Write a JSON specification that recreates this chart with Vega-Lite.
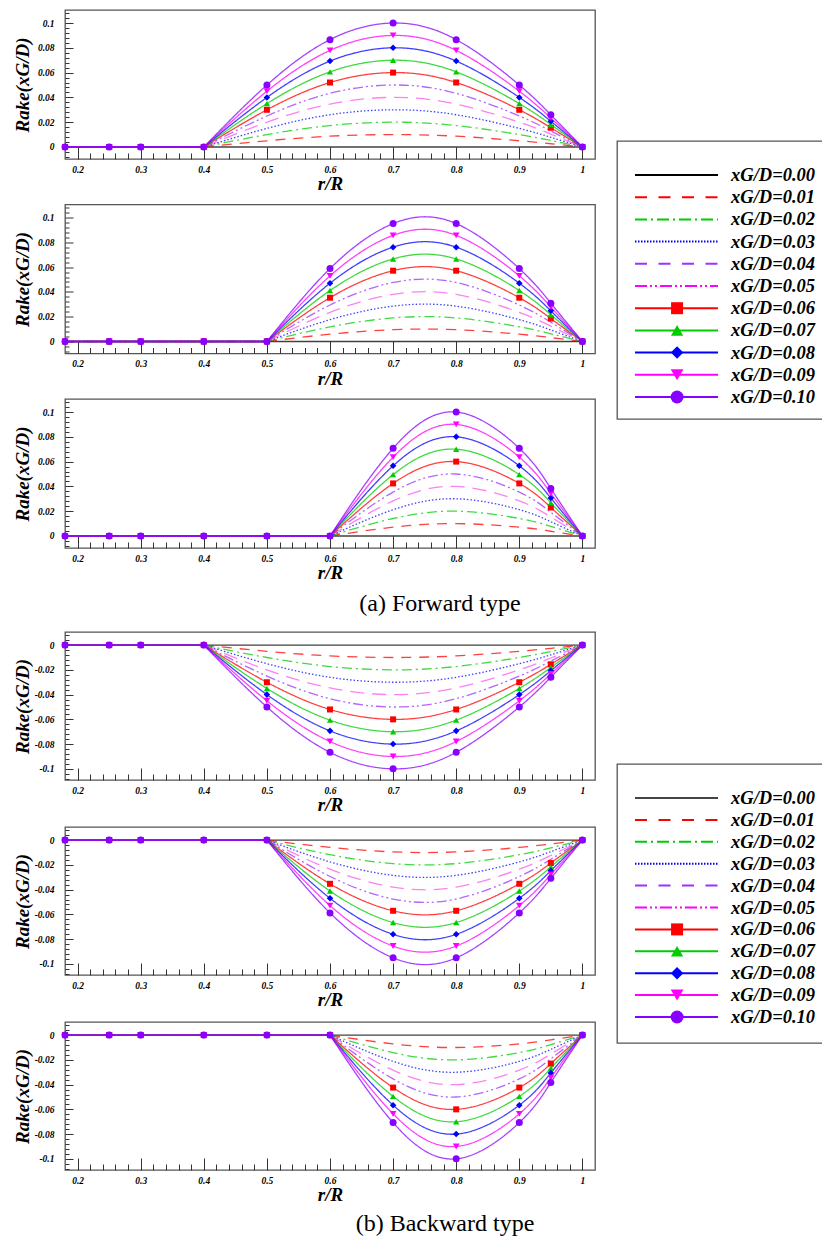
{
"$schema":"https://vega.github.io/schema/vega-lite/v6.json",
"padding":{"left":12,"top":7,"right":0,"bottom":0},
"background":"white",
"datasets":{
"legend":[
{"series":"k00","label":"xG/D=0.00"},{"series":"k01","label":"xG/D=0.01"},{"series":"k02","label":"xG/D=0.02"},{"series":"k03","label":"xG/D=0.03"},{"series":"k04","label":"xG/D=0.04"},{"series":"k05","label":"xG/D=0.05"},{"series":"k06","label":"xG/D=0.06"},{"series":"k07","label":"xG/D=0.07"},{"series":"k08","label":"xG/D=0.08"},{"series":"k09","label":"xG/D=0.09"},{"series":"k10","label":"xG/D=0.10"}
],
"rake":[
{"panel":"F4","r":0.18,"k00":0,"k01":0,"k02":0,"k03":0,"k04":0,"k05":0,"k06":0,"k07":0,"k08":0,"k09":0,"k10":0},
{"panel":"F4","r":0.25,"k00":0,"k01":0,"k02":0,"k03":0,"k04":0,"k05":0,"k06":0,"k07":0,"k08":0,"k09":0,"k10":0},
{"panel":"F4","r":0.3,"k00":0,"k01":0,"k02":0,"k03":0,"k04":0,"k05":0,"k06":0,"k07":0,"k08":0,"k09":0,"k10":0},
{"panel":"F4","r":0.4,"k00":0,"k01":0,"k02":0,"k03":0,"k04":0,"k05":0,"k06":0,"k07":0,"k08":0,"k09":0,"k10":0},
{"panel":"F4","r":0.5,"k00":0,"k01":0.005,"k02":0.01,"k03":0.015,"k04":0.02,"k05":0.025,"k06":0.03,"k07":0.035,"k08":0.04,"k09":0.045,"k10":0.05},
{"panel":"F4","r":0.6,"k00":0,"k01":0.0087,"k02":0.0173,"k03":0.026,"k04":0.0346,"k05":0.0433,"k06":0.052,"k07":0.0606,"k08":0.0693,"k09":0.0779,"k10":0.0866},
{"panel":"F4","r":0.7,"k00":0,"k01":0.01,"k02":0.02,"k03":0.03,"k04":0.04,"k05":0.05,"k06":0.06,"k07":0.07,"k08":0.08,"k09":0.09,"k10":0.1},
{"panel":"F4","r":0.8,"k00":0,"k01":0.0087,"k02":0.0173,"k03":0.026,"k04":0.0346,"k05":0.0433,"k06":0.052,"k07":0.0606,"k08":0.0693,"k09":0.0779,"k10":0.0866},
{"panel":"F4","r":0.9,"k00":0,"k01":0.005,"k02":0.01,"k03":0.015,"k04":0.02,"k05":0.025,"k06":0.03,"k07":0.035,"k08":0.04,"k09":0.045,"k10":0.05},
{"panel":"F4","r":0.95,"k00":0,"k01":0.0026,"k02":0.0052,"k03":0.0078,"k04":0.0104,"k05":0.0129,"k06":0.0155,"k07":0.0181,"k08":0.0207,"k09":0.0233,"k10":0.0259},
{"panel":"F4","r":1,"k00":0,"k01":0,"k02":0,"k03":0,"k04":0,"k05":0,"k06":0,"k07":0,"k08":0,"k09":0,"k10":0},
{"panel":"F5","r":0.18,"k00":0,"k01":0,"k02":0,"k03":0,"k04":0,"k05":0,"k06":0,"k07":0,"k08":0,"k09":0,"k10":0},
{"panel":"F5","r":0.25,"k00":0,"k01":0,"k02":0,"k03":0,"k04":0,"k05":0,"k06":0,"k07":0,"k08":0,"k09":0,"k10":0},
{"panel":"F5","r":0.3,"k00":0,"k01":0,"k02":0,"k03":0,"k04":0,"k05":0,"k06":0,"k07":0,"k08":0,"k09":0,"k10":0},
{"panel":"F5","r":0.4,"k00":0,"k01":0,"k02":0,"k03":0,"k04":0,"k05":0,"k06":0,"k07":0,"k08":0,"k09":0,"k10":0},
{"panel":"F5","r":0.5,"k00":0,"k01":0,"k02":0,"k03":0,"k04":0,"k05":0,"k06":0,"k07":0,"k08":0,"k09":0,"k10":0},
{"panel":"F5","r":0.6,"k00":0,"k01":0.0059,"k02":0.0118,"k03":0.0176,"k04":0.0235,"k05":0.0294,"k06":0.0353,"k07":0.0411,"k08":0.047,"k09":0.0529,"k10":0.0588},
{"panel":"F5","r":0.7,"k00":0,"k01":0.0095,"k02":0.019,"k03":0.0285,"k04":0.038,"k05":0.0476,"k06":0.0571,"k07":0.0666,"k08":0.0761,"k09":0.0856,"k10":0.0951},
{"panel":"F5","r":0.8,"k00":0,"k01":0.0095,"k02":0.019,"k03":0.0285,"k04":0.038,"k05":0.0476,"k06":0.0571,"k07":0.0666,"k08":0.0761,"k09":0.0856,"k10":0.0951},
{"panel":"F5","r":0.9,"k00":0,"k01":0.0059,"k02":0.0118,"k03":0.0176,"k04":0.0235,"k05":0.0294,"k06":0.0353,"k07":0.0411,"k08":0.047,"k09":0.0529,"k10":0.0588},
{"panel":"F5","r":0.95,"k00":0,"k01":0.0031,"k02":0.0062,"k03":0.0093,"k04":0.0124,"k05":0.0155,"k06":0.0185,"k07":0.0216,"k08":0.0247,"k09":0.0278,"k10":0.0309},
{"panel":"F5","r":1,"k00":0,"k01":0,"k02":0,"k03":0,"k04":0,"k05":0,"k06":0,"k07":0,"k08":0,"k09":0,"k10":0},
{"panel":"F6","r":0.18,"k00":0,"k01":0,"k02":0,"k03":0,"k04":0,"k05":0,"k06":0,"k07":0,"k08":0,"k09":0,"k10":0},
{"panel":"F6","r":0.25,"k00":0,"k01":0,"k02":0,"k03":0,"k04":0,"k05":0,"k06":0,"k07":0,"k08":0,"k09":0,"k10":0},
{"panel":"F6","r":0.3,"k00":0,"k01":0,"k02":0,"k03":0,"k04":0,"k05":0,"k06":0,"k07":0,"k08":0,"k09":0,"k10":0},
{"panel":"F6","r":0.4,"k00":0,"k01":0,"k02":0,"k03":0,"k04":0,"k05":0,"k06":0,"k07":0,"k08":0,"k09":0,"k10":0},
{"panel":"F6","r":0.5,"k00":0,"k01":0,"k02":0,"k03":0,"k04":0,"k05":0,"k06":0,"k07":0,"k08":0,"k09":0,"k10":0},
{"panel":"F6","r":0.6,"k00":0,"k01":0,"k02":0,"k03":0,"k04":0,"k05":0,"k06":0,"k07":0,"k08":0,"k09":0,"k10":0},
{"panel":"F6","r":0.7,"k00":0,"k01":0.0071,"k02":0.0141,"k03":0.0212,"k04":0.0283,"k05":0.0354,"k06":0.0424,"k07":0.0495,"k08":0.0566,"k09":0.0636,"k10":0.0707},
{"panel":"F6","r":0.8,"k00":0,"k01":0.01,"k02":0.02,"k03":0.03,"k04":0.04,"k05":0.05,"k06":0.06,"k07":0.07,"k08":0.08,"k09":0.09,"k10":0.1},
{"panel":"F6","r":0.9,"k00":0,"k01":0.0071,"k02":0.0141,"k03":0.0212,"k04":0.0283,"k05":0.0354,"k06":0.0424,"k07":0.0495,"k08":0.0566,"k09":0.0636,"k10":0.0707},
{"panel":"F6","r":0.95,"k00":0,"k01":0.0038,"k02":0.0077,"k03":0.0115,"k04":0.0153,"k05":0.0191,"k06":0.023,"k07":0.0268,"k08":0.0306,"k09":0.0344,"k10":0.0383},
{"panel":"F6","r":1,"k00":0,"k01":0,"k02":0,"k03":0,"k04":0,"k05":0,"k06":0,"k07":0,"k08":0,"k09":0,"k10":0},
{"panel":"B4","r":0.18,"k00":0,"k01":0,"k02":0,"k03":0,"k04":0,"k05":0,"k06":0,"k07":0,"k08":0,"k09":0,"k10":0},
{"panel":"B4","r":0.25,"k00":0,"k01":0,"k02":0,"k03":0,"k04":0,"k05":0,"k06":0,"k07":0,"k08":0,"k09":0,"k10":0},
{"panel":"B4","r":0.3,"k00":0,"k01":0,"k02":0,"k03":0,"k04":0,"k05":0,"k06":0,"k07":0,"k08":0,"k09":0,"k10":0},
{"panel":"B4","r":0.4,"k00":0,"k01":0,"k02":0,"k03":0,"k04":0,"k05":0,"k06":0,"k07":0,"k08":0,"k09":0,"k10":0},
{"panel":"B4","r":0.5,"k00":0,"k01":-0.005,"k02":-0.01,"k03":-0.015,"k04":-0.02,"k05":-0.025,"k06":-0.03,"k07":-0.035,"k08":-0.04,"k09":-0.045,"k10":-0.05},
{"panel":"B4","r":0.6,"k00":0,"k01":-0.0087,"k02":-0.0173,"k03":-0.026,"k04":-0.0346,"k05":-0.0433,"k06":-0.052,"k07":-0.0606,"k08":-0.0693,"k09":-0.0779,"k10":-0.0866},
{"panel":"B4","r":0.7,"k00":0,"k01":-0.01,"k02":-0.02,"k03":-0.03,"k04":-0.04,"k05":-0.05,"k06":-0.06,"k07":-0.07,"k08":-0.08,"k09":-0.09,"k10":-0.1},
{"panel":"B4","r":0.8,"k00":0,"k01":-0.0087,"k02":-0.0173,"k03":-0.026,"k04":-0.0346,"k05":-0.0433,"k06":-0.052,"k07":-0.0606,"k08":-0.0693,"k09":-0.0779,"k10":-0.0866},
{"panel":"B4","r":0.9,"k00":0,"k01":-0.005,"k02":-0.01,"k03":-0.015,"k04":-0.02,"k05":-0.025,"k06":-0.03,"k07":-0.035,"k08":-0.04,"k09":-0.045,"k10":-0.05},
{"panel":"B4","r":0.95,"k00":0,"k01":-0.0026,"k02":-0.0052,"k03":-0.0078,"k04":-0.0104,"k05":-0.0129,"k06":-0.0155,"k07":-0.0181,"k08":-0.0207,"k09":-0.0233,"k10":-0.0259},
{"panel":"B4","r":1,"k00":0,"k01":0,"k02":0,"k03":0,"k04":0,"k05":0,"k06":0,"k07":0,"k08":0,"k09":0,"k10":0},
{"panel":"B5","r":0.18,"k00":0,"k01":0,"k02":0,"k03":0,"k04":0,"k05":0,"k06":0,"k07":0,"k08":0,"k09":0,"k10":0},
{"panel":"B5","r":0.25,"k00":0,"k01":0,"k02":0,"k03":0,"k04":0,"k05":0,"k06":0,"k07":0,"k08":0,"k09":0,"k10":0},
{"panel":"B5","r":0.3,"k00":0,"k01":0,"k02":0,"k03":0,"k04":0,"k05":0,"k06":0,"k07":0,"k08":0,"k09":0,"k10":0},
{"panel":"B5","r":0.4,"k00":0,"k01":0,"k02":0,"k03":0,"k04":0,"k05":0,"k06":0,"k07":0,"k08":0,"k09":0,"k10":0},
{"panel":"B5","r":0.5,"k00":0,"k01":0,"k02":0,"k03":0,"k04":0,"k05":0,"k06":0,"k07":0,"k08":0,"k09":0,"k10":0},
{"panel":"B5","r":0.6,"k00":0,"k01":-0.0059,"k02":-0.0118,"k03":-0.0176,"k04":-0.0235,"k05":-0.0294,"k06":-0.0353,"k07":-0.0411,"k08":-0.047,"k09":-0.0529,"k10":-0.0588},
{"panel":"B5","r":0.7,"k00":0,"k01":-0.0095,"k02":-0.019,"k03":-0.0285,"k04":-0.038,"k05":-0.0476,"k06":-0.0571,"k07":-0.0666,"k08":-0.0761,"k09":-0.0856,"k10":-0.0951},
{"panel":"B5","r":0.8,"k00":0,"k01":-0.0095,"k02":-0.019,"k03":-0.0285,"k04":-0.038,"k05":-0.0476,"k06":-0.0571,"k07":-0.0666,"k08":-0.0761,"k09":-0.0856,"k10":-0.0951},
{"panel":"B5","r":0.9,"k00":0,"k01":-0.0059,"k02":-0.0118,"k03":-0.0176,"k04":-0.0235,"k05":-0.0294,"k06":-0.0353,"k07":-0.0411,"k08":-0.047,"k09":-0.0529,"k10":-0.0588},
{"panel":"B5","r":0.95,"k00":0,"k01":-0.0031,"k02":-0.0062,"k03":-0.0093,"k04":-0.0124,"k05":-0.0155,"k06":-0.0185,"k07":-0.0216,"k08":-0.0247,"k09":-0.0278,"k10":-0.0309},
{"panel":"B5","r":1,"k00":0,"k01":0,"k02":0,"k03":0,"k04":0,"k05":0,"k06":0,"k07":0,"k08":0,"k09":0,"k10":0},
{"panel":"B6","r":0.18,"k00":0,"k01":0,"k02":0,"k03":0,"k04":0,"k05":0,"k06":0,"k07":0,"k08":0,"k09":0,"k10":0},
{"panel":"B6","r":0.25,"k00":0,"k01":0,"k02":0,"k03":0,"k04":0,"k05":0,"k06":0,"k07":0,"k08":0,"k09":0,"k10":0},
{"panel":"B6","r":0.3,"k00":0,"k01":0,"k02":0,"k03":0,"k04":0,"k05":0,"k06":0,"k07":0,"k08":0,"k09":0,"k10":0},
{"panel":"B6","r":0.4,"k00":0,"k01":0,"k02":0,"k03":0,"k04":0,"k05":0,"k06":0,"k07":0,"k08":0,"k09":0,"k10":0},
{"panel":"B6","r":0.5,"k00":0,"k01":0,"k02":0,"k03":0,"k04":0,"k05":0,"k06":0,"k07":0,"k08":0,"k09":0,"k10":0},
{"panel":"B6","r":0.6,"k00":0,"k01":0,"k02":0,"k03":0,"k04":0,"k05":0,"k06":0,"k07":0,"k08":0,"k09":0,"k10":0},
{"panel":"B6","r":0.7,"k00":0,"k01":-0.0071,"k02":-0.0141,"k03":-0.0212,"k04":-0.0283,"k05":-0.0354,"k06":-0.0424,"k07":-0.0495,"k08":-0.0566,"k09":-0.0636,"k10":-0.0707},
{"panel":"B6","r":0.8,"k00":0,"k01":-0.01,"k02":-0.02,"k03":-0.03,"k04":-0.04,"k05":-0.05,"k06":-0.06,"k07":-0.07,"k08":-0.08,"k09":-0.09,"k10":-0.1},
{"panel":"B6","r":0.9,"k00":0,"k01":-0.0071,"k02":-0.0141,"k03":-0.0212,"k04":-0.0283,"k05":-0.0354,"k06":-0.0424,"k07":-0.0495,"k08":-0.0566,"k09":-0.0636,"k10":-0.0707},
{"panel":"B6","r":0.95,"k00":0,"k01":-0.0038,"k02":-0.0077,"k03":-0.0115,"k04":-0.0153,"k05":-0.0191,"k06":-0.023,"k07":-0.0268,"k08":-0.0306,"k09":-0.0344,"k10":-0.0383},
{"panel":"B6","r":1,"k00":0,"k01":0,"k02":0,"k03":0,"k04":0,"k05":0,"k06":0,"k07":0,"k08":0,"k09":0,"k10":0}
]},
"spacing":20,
"resolve":{"scale":{"x":"independent","y":"independent","color":"independent","strokeDash":"independent","shape":"independent","size":"independent"}},
"hconcat":[
{"vconcat":[
 {"vconcat":[
  {"width":530,"height":149,"data":{"name":"rake"},
   "encoding":{
    "x":{"field":"r","type":"quantitative","title":"r/R","scale":{"domain":[0.18,1.02],"nice":false,"zero":false},"axis":{"values":[0.2,0.22,0.24,0.26,0.28,0.3,0.32,0.34,0.36,0.38,0.4,0.42,0.44,0.46,0.48,0.5,0.52,0.54,0.56,0.58,0.6,0.62,0.64,0.66,0.68,0.7,0.72,0.74,0.76,0.78,0.8,0.82,0.84,0.86,0.88,0.9,0.92,0.94,0.96,0.98,1],"tickSize":{"condition":{"test":"abs(datum.value*10-round(datum.value*10))<0.001","value":-12},"value":-6},"labelExpr":"abs(datum.value*10-round(datum.value*10))<0.001 ? datum.value+'' : ''"}},
    "y":{"field":"v","type":"quantitative","title":"Rake(xG/D)","scale":{"domain":[-0.0097,0.1105],"nice":false,"zero":false},"axis":{"values":[-0.008,-0.004,0,0.004,0.008,0.012,0.016,0.02,0.024,0.028,0.032,0.036,0.04,0.044,0.048,0.052,0.056,0.06,0.064,0.068,0.072,0.076,0.08,0.084,0.088,0.092,0.096,0.1,0.104,0.108],"tickSize":{"condition":{"test":"abs(datum.value*50-round(datum.value*50))<0.001","value":-8},"value":-4},"labelExpr":"abs(datum.value*50-round(datum.value*50))<0.001 ? datum.value+'' : ''"}}},
   "layer":[
    {"transform":[{"filter":"datum.panel=='F4'"},{"fold":["k00","k01","k02","k03","k04","k05","k06","k07","k08","k09","k10"],"as":["series","v"]},{"filter":"datum.r<=0.4"}],
     "mark":{"type":"line","strokeWidth":1.3,"opacity":0.75},
     "encoding":{"color":{"field":"series","type":"nominal","legend":null,"scale":{"domain":["k00","k01","k02","k03","k04","k05","k06","k07","k08","k09","k10"],"range":["#000000","#ff0000","#00cc00","#0000ff","#ff55ee","#9933ff","#ff0000","#00cc00","#0000ff","#ff00ff","#8800ff"]}},"strokeDash":{"field":"series","type":"nominal","legend":null,"scale":{"domain":["k00","k01","k02","k03","k04","k05","k06","k07","k08","k09","k10"],"range":[[1,0],[10,8],[10,4,2,4],[1.5,2],[14,8],[10,3,2,3,2,3],[1,0],[1,0],[1,0],[1,0],[1,0]]}}}},
    {"transform":[{"filter":"datum.panel=='F4'"},{"fold":["k00","k01","k02","k03","k04","k05","k06","k07","k08","k09","k10"],"as":["series","v"]},{"filter":"datum.r>=0.4"}],
     "mark":{"type":"line","strokeWidth":1.3,"opacity":0.75,"interpolate":"natural"},
     "encoding":{"color":{"field":"series","type":"nominal","legend":null,"scale":{"domain":["k00","k01","k02","k03","k04","k05","k06","k07","k08","k09","k10"],"range":["#000000","#ff0000","#00cc00","#0000ff","#ff55ee","#9933ff","#ff0000","#00cc00","#0000ff","#ff00ff","#8800ff"]}},"strokeDash":{"field":"series","type":"nominal","legend":null,"scale":{"domain":["k00","k01","k02","k03","k04","k05","k06","k07","k08","k09","k10"],"range":[[1,0],[10,8],[10,4,2,4],[1.5,2],[14,8],[10,3,2,3,2,3],[1,0],[1,0],[1,0],[1,0],[1,0]]}}}},
    {"transform":[{"filter":"datum.panel=='F4'"},{"fold":["k00","k01","k02","k03","k04","k05","k06","k07","k08","k09","k10"],"as":["series","v"]},{"filter":"datum.series>='k06'"}],
     "mark":{"type":"point","filled":true,"opacity":1},
     "encoding":{"color":{"field":"series","type":"nominal","legend":null,"scale":{"domain":["k00","k01","k02","k03","k04","k05","k06","k07","k08","k09","k10"],"range":["#000000","#ff0000","#00cc00","#0000ff","#ff55ee","#9933ff","#ff0000","#00cc00","#0000ff","#ff00ff","#8800ff"]}},"shape":{"field":"series","type":"nominal","legend":null,"scale":{"domain":["k06","k07","k08","k09","k10"],"range":["square","triangle-up","diamond","triangle-down","circle"]}},"size":{"field":"series","type":"ordinal","legend":null,"scale":{"domain":["k06","k07","k08","k09","k10"],"range":[36,49,56,49,81]}}}},
    {"data":{"values":[{"label":"STP=0.4R"}]},
     "mark":{"type":"text","align":"left","baseline":"alphabetic","fontSize":30,"fontStyle":"italic","fontWeight":"bold","font":"Liberation Serif","color":"#000000"},
     "encoding":{"x":{"datum":0.207},"y":{"datum":0.0865},"text":{"field":"label"}}}
   ]},
  {"width":530,"height":149,"data":{"name":"rake"},
   "encoding":{
    "x":{"field":"r","type":"quantitative","title":"r/R","scale":{"domain":[0.18,1.02],"nice":false,"zero":false},"axis":{"values":[0.2,0.22,0.24,0.26,0.28,0.3,0.32,0.34,0.36,0.38,0.4,0.42,0.44,0.46,0.48,0.5,0.52,0.54,0.56,0.58,0.6,0.62,0.64,0.66,0.68,0.7,0.72,0.74,0.76,0.78,0.8,0.82,0.84,0.86,0.88,0.9,0.92,0.94,0.96,0.98,1],"tickSize":{"condition":{"test":"abs(datum.value*10-round(datum.value*10))<0.001","value":-12},"value":-6},"labelExpr":"abs(datum.value*10-round(datum.value*10))<0.001 ? datum.value+'' : ''"}},
    "y":{"field":"v","type":"quantitative","title":"Rake(xG/D)","scale":{"domain":[-0.0097,0.1105],"nice":false,"zero":false},"axis":{"values":[-0.008,-0.004,0,0.004,0.008,0.012,0.016,0.02,0.024,0.028,0.032,0.036,0.04,0.044,0.048,0.052,0.056,0.06,0.064,0.068,0.072,0.076,0.08,0.084,0.088,0.092,0.096,0.1,0.104,0.108],"tickSize":{"condition":{"test":"abs(datum.value*50-round(datum.value*50))<0.001","value":-8},"value":-4},"labelExpr":"abs(datum.value*50-round(datum.value*50))<0.001 ? datum.value+'' : ''"}}},
   "layer":[
    {"transform":[{"filter":"datum.panel=='F5'"},{"fold":["k00","k01","k02","k03","k04","k05","k06","k07","k08","k09","k10"],"as":["series","v"]},{"filter":"datum.r<=0.5"}],
     "mark":{"type":"line","strokeWidth":1.3,"opacity":0.75},
     "encoding":{"color":{"field":"series","type":"nominal","legend":null,"scale":{"domain":["k00","k01","k02","k03","k04","k05","k06","k07","k08","k09","k10"],"range":["#000000","#ff0000","#00cc00","#0000ff","#ff55ee","#9933ff","#ff0000","#00cc00","#0000ff","#ff00ff","#8800ff"]}},"strokeDash":{"field":"series","type":"nominal","legend":null,"scale":{"domain":["k00","k01","k02","k03","k04","k05","k06","k07","k08","k09","k10"],"range":[[1,0],[10,8],[10,4,2,4],[1.5,2],[14,8],[10,3,2,3,2,3],[1,0],[1,0],[1,0],[1,0],[1,0]]}}}},
    {"transform":[{"filter":"datum.panel=='F5'"},{"fold":["k00","k01","k02","k03","k04","k05","k06","k07","k08","k09","k10"],"as":["series","v"]},{"filter":"datum.r>=0.5"}],
     "mark":{"type":"line","strokeWidth":1.3,"opacity":0.75,"interpolate":"natural"},
     "encoding":{"color":{"field":"series","type":"nominal","legend":null,"scale":{"domain":["k00","k01","k02","k03","k04","k05","k06","k07","k08","k09","k10"],"range":["#000000","#ff0000","#00cc00","#0000ff","#ff55ee","#9933ff","#ff0000","#00cc00","#0000ff","#ff00ff","#8800ff"]}},"strokeDash":{"field":"series","type":"nominal","legend":null,"scale":{"domain":["k00","k01","k02","k03","k04","k05","k06","k07","k08","k09","k10"],"range":[[1,0],[10,8],[10,4,2,4],[1.5,2],[14,8],[10,3,2,3,2,3],[1,0],[1,0],[1,0],[1,0],[1,0]]}}}},
    {"transform":[{"filter":"datum.panel=='F5'"},{"fold":["k00","k01","k02","k03","k04","k05","k06","k07","k08","k09","k10"],"as":["series","v"]},{"filter":"datum.series>='k06'"}],
     "mark":{"type":"point","filled":true,"opacity":1},
     "encoding":{"color":{"field":"series","type":"nominal","legend":null,"scale":{"domain":["k00","k01","k02","k03","k04","k05","k06","k07","k08","k09","k10"],"range":["#000000","#ff0000","#00cc00","#0000ff","#ff55ee","#9933ff","#ff0000","#00cc00","#0000ff","#ff00ff","#8800ff"]}},"shape":{"field":"series","type":"nominal","legend":null,"scale":{"domain":["k06","k07","k08","k09","k10"],"range":["square","triangle-up","diamond","triangle-down","circle"]}},"size":{"field":"series","type":"ordinal","legend":null,"scale":{"domain":["k06","k07","k08","k09","k10"],"range":[36,49,56,49,81]}}}},
    {"data":{"values":[{"label":"STP=0.5R"}]},
     "mark":{"type":"text","align":"left","baseline":"alphabetic","fontSize":30,"fontStyle":"italic","fontWeight":"bold","font":"Liberation Serif","color":"#000000"},
     "encoding":{"x":{"datum":0.207},"y":{"datum":0.0865},"text":{"field":"label"}}}
   ]},
  {"width":530,"height":149,"data":{"name":"rake"},
   "title":{"text":"(a) Forward type","orient":"bottom","anchor":"middle","dx":110,"offset":9,"fontSize":24,"fontWeight":"normal","fontStyle":"normal","font":"Liberation Serif","color":"#000000"},
   "encoding":{
    "x":{"field":"r","type":"quantitative","title":"r/R","scale":{"domain":[0.18,1.02],"nice":false,"zero":false},"axis":{"values":[0.2,0.22,0.24,0.26,0.28,0.3,0.32,0.34,0.36,0.38,0.4,0.42,0.44,0.46,0.48,0.5,0.52,0.54,0.56,0.58,0.6,0.62,0.64,0.66,0.68,0.7,0.72,0.74,0.76,0.78,0.8,0.82,0.84,0.86,0.88,0.9,0.92,0.94,0.96,0.98,1],"tickSize":{"condition":{"test":"abs(datum.value*10-round(datum.value*10))<0.001","value":-12},"value":-6},"labelExpr":"abs(datum.value*10-round(datum.value*10))<0.001 ? datum.value+'' : ''"}},
    "y":{"field":"v","type":"quantitative","title":"Rake(xG/D)","scale":{"domain":[-0.0097,0.1105],"nice":false,"zero":false},"axis":{"values":[-0.008,-0.004,0,0.004,0.008,0.012,0.016,0.02,0.024,0.028,0.032,0.036,0.04,0.044,0.048,0.052,0.056,0.06,0.064,0.068,0.072,0.076,0.08,0.084,0.088,0.092,0.096,0.1,0.104,0.108],"tickSize":{"condition":{"test":"abs(datum.value*50-round(datum.value*50))<0.001","value":-8},"value":-4},"labelExpr":"abs(datum.value*50-round(datum.value*50))<0.001 ? datum.value+'' : ''"}}},
   "layer":[
    {"transform":[{"filter":"datum.panel=='F6'"},{"fold":["k00","k01","k02","k03","k04","k05","k06","k07","k08","k09","k10"],"as":["series","v"]},{"filter":"datum.r<=0.6"}],
     "mark":{"type":"line","strokeWidth":1.3,"opacity":0.75},
     "encoding":{"color":{"field":"series","type":"nominal","legend":null,"scale":{"domain":["k00","k01","k02","k03","k04","k05","k06","k07","k08","k09","k10"],"range":["#000000","#ff0000","#00cc00","#0000ff","#ff55ee","#9933ff","#ff0000","#00cc00","#0000ff","#ff00ff","#8800ff"]}},"strokeDash":{"field":"series","type":"nominal","legend":null,"scale":{"domain":["k00","k01","k02","k03","k04","k05","k06","k07","k08","k09","k10"],"range":[[1,0],[10,8],[10,4,2,4],[1.5,2],[14,8],[10,3,2,3,2,3],[1,0],[1,0],[1,0],[1,0],[1,0]]}}}},
    {"transform":[{"filter":"datum.panel=='F6'"},{"fold":["k00","k01","k02","k03","k04","k05","k06","k07","k08","k09","k10"],"as":["series","v"]},{"filter":"datum.r>=0.6"}],
     "mark":{"type":"line","strokeWidth":1.3,"opacity":0.75,"interpolate":"natural"},
     "encoding":{"color":{"field":"series","type":"nominal","legend":null,"scale":{"domain":["k00","k01","k02","k03","k04","k05","k06","k07","k08","k09","k10"],"range":["#000000","#ff0000","#00cc00","#0000ff","#ff55ee","#9933ff","#ff0000","#00cc00","#0000ff","#ff00ff","#8800ff"]}},"strokeDash":{"field":"series","type":"nominal","legend":null,"scale":{"domain":["k00","k01","k02","k03","k04","k05","k06","k07","k08","k09","k10"],"range":[[1,0],[10,8],[10,4,2,4],[1.5,2],[14,8],[10,3,2,3,2,3],[1,0],[1,0],[1,0],[1,0],[1,0]]}}}},
    {"transform":[{"filter":"datum.panel=='F6'"},{"fold":["k00","k01","k02","k03","k04","k05","k06","k07","k08","k09","k10"],"as":["series","v"]},{"filter":"datum.series>='k06'"}],
     "mark":{"type":"point","filled":true,"opacity":1},
     "encoding":{"color":{"field":"series","type":"nominal","legend":null,"scale":{"domain":["k00","k01","k02","k03","k04","k05","k06","k07","k08","k09","k10"],"range":["#000000","#ff0000","#00cc00","#0000ff","#ff55ee","#9933ff","#ff0000","#00cc00","#0000ff","#ff00ff","#8800ff"]}},"shape":{"field":"series","type":"nominal","legend":null,"scale":{"domain":["k06","k07","k08","k09","k10"],"range":["square","triangle-up","diamond","triangle-down","circle"]}},"size":{"field":"series","type":"ordinal","legend":null,"scale":{"domain":["k06","k07","k08","k09","k10"],"range":[36,49,56,49,81]}}}},
    {"data":{"values":[{"label":"STP=0.6R"}]},
     "mark":{"type":"text","align":"left","baseline":"alphabetic","fontSize":30,"fontStyle":"italic","fontWeight":"bold","font":"Liberation Serif","color":"#000000"},
     "encoding":{"x":{"datum":0.207},"y":{"datum":0.0865},"text":{"field":"label"}}}
   ]}
 ],"spacing":6.5,
 "resolve":{"scale":{"x":"independent","y":"independent","color":"independent","strokeDash":"independent","shape":"independent","size":"independent"}}},
 {"vconcat":[
  {"width":530,"height":148,"data":{"name":"rake"},
   "encoding":{
    "x":{"field":"r","type":"quantitative","title":"r/R","scale":{"domain":[0.18,1.02],"nice":false,"zero":false},"axis":{"values":[0.2,0.22,0.24,0.26,0.28,0.3,0.32,0.34,0.36,0.38,0.4,0.42,0.44,0.46,0.48,0.5,0.52,0.54,0.56,0.58,0.6,0.62,0.64,0.66,0.68,0.7,0.72,0.74,0.76,0.78,0.8,0.82,0.84,0.86,0.88,0.9,0.92,0.94,0.96,0.98,1],"tickSize":{"condition":{"test":"abs(datum.value*10-round(datum.value*10))<0.001","value":-12},"value":-6},"labelExpr":"abs(datum.value*10-round(datum.value*10))<0.001 ? datum.value+'' : ''"}},
    "y":{"field":"v","type":"quantitative","title":"Rake(xG/D)","scale":{"domain":[-0.109,0.0106],"nice":false,"zero":false},"axis":{"values":[0.008,0.004,0,-0.004,-0.008,-0.012,-0.016,-0.02,-0.024,-0.028,-0.032,-0.036,-0.04,-0.044,-0.048,-0.052,-0.056,-0.06,-0.064,-0.068,-0.072,-0.076,-0.08,-0.084,-0.088,-0.092,-0.096,-0.1,-0.104,-0.108],"tickSize":{"condition":{"test":"abs(datum.value*50-round(datum.value*50))<0.001","value":-8},"value":-4},"labelExpr":"abs(datum.value*50-round(datum.value*50))<0.001 ? datum.value+'' : ''"}}},
   "layer":[
    {"transform":[{"filter":"datum.panel=='B4'"},{"fold":["k00","k01","k02","k03","k04","k05","k06","k07","k08","k09","k10"],"as":["series","v"]},{"filter":"datum.r<=0.4"}],
     "mark":{"type":"line","strokeWidth":1.3,"opacity":0.75},
     "encoding":{"color":{"field":"series","type":"nominal","legend":null,"scale":{"domain":["k00","k01","k02","k03","k04","k05","k06","k07","k08","k09","k10"],"range":["#000000","#ff0000","#00cc00","#0000ff","#ff55ee","#9933ff","#ff0000","#00cc00","#0000ff","#ff00ff","#8800ff"]}},"strokeDash":{"field":"series","type":"nominal","legend":null,"scale":{"domain":["k00","k01","k02","k03","k04","k05","k06","k07","k08","k09","k10"],"range":[[1,0],[10,8],[10,4,2,4],[1.5,2],[14,8],[10,3,2,3,2,3],[1,0],[1,0],[1,0],[1,0],[1,0]]}}}},
    {"transform":[{"filter":"datum.panel=='B4'"},{"fold":["k00","k01","k02","k03","k04","k05","k06","k07","k08","k09","k10"],"as":["series","v"]},{"filter":"datum.r>=0.4"}],
     "mark":{"type":"line","strokeWidth":1.3,"opacity":0.75,"interpolate":"natural"},
     "encoding":{"color":{"field":"series","type":"nominal","legend":null,"scale":{"domain":["k00","k01","k02","k03","k04","k05","k06","k07","k08","k09","k10"],"range":["#000000","#ff0000","#00cc00","#0000ff","#ff55ee","#9933ff","#ff0000","#00cc00","#0000ff","#ff00ff","#8800ff"]}},"strokeDash":{"field":"series","type":"nominal","legend":null,"scale":{"domain":["k00","k01","k02","k03","k04","k05","k06","k07","k08","k09","k10"],"range":[[1,0],[10,8],[10,4,2,4],[1.5,2],[14,8],[10,3,2,3,2,3],[1,0],[1,0],[1,0],[1,0],[1,0]]}}}},
    {"transform":[{"filter":"datum.panel=='B4'"},{"fold":["k00","k01","k02","k03","k04","k05","k06","k07","k08","k09","k10"],"as":["series","v"]},{"filter":"datum.series>='k06'"}],
     "mark":{"type":"point","filled":true,"opacity":1},
     "encoding":{"color":{"field":"series","type":"nominal","legend":null,"scale":{"domain":["k00","k01","k02","k03","k04","k05","k06","k07","k08","k09","k10"],"range":["#000000","#ff0000","#00cc00","#0000ff","#ff55ee","#9933ff","#ff0000","#00cc00","#0000ff","#ff00ff","#8800ff"]}},"shape":{"field":"series","type":"nominal","legend":null,"scale":{"domain":["k06","k07","k08","k09","k10"],"range":["square","triangle-up","diamond","triangle-down","circle"]}},"size":{"field":"series","type":"ordinal","legend":null,"scale":{"domain":["k06","k07","k08","k09","k10"],"range":[36,49,56,49,81]}}}},
    {"data":{"values":[{"label":"STP=0.4R"}]},
     "mark":{"type":"text","align":"left","baseline":"alphabetic","fontSize":30,"fontStyle":"italic","fontWeight":"bold","font":"Liberation Serif","color":"#000000"},
     "encoding":{"x":{"datum":0.208},"y":{"datum":-0.0955},"text":{"field":"label"}}}
   ]},
  {"width":530,"height":148,"data":{"name":"rake"},
   "encoding":{
    "x":{"field":"r","type":"quantitative","title":"r/R","scale":{"domain":[0.18,1.02],"nice":false,"zero":false},"axis":{"values":[0.2,0.22,0.24,0.26,0.28,0.3,0.32,0.34,0.36,0.38,0.4,0.42,0.44,0.46,0.48,0.5,0.52,0.54,0.56,0.58,0.6,0.62,0.64,0.66,0.68,0.7,0.72,0.74,0.76,0.78,0.8,0.82,0.84,0.86,0.88,0.9,0.92,0.94,0.96,0.98,1],"tickSize":{"condition":{"test":"abs(datum.value*10-round(datum.value*10))<0.001","value":-12},"value":-6},"labelExpr":"abs(datum.value*10-round(datum.value*10))<0.001 ? datum.value+'' : ''"}},
    "y":{"field":"v","type":"quantitative","title":"Rake(xG/D)","scale":{"domain":[-0.109,0.0106],"nice":false,"zero":false},"axis":{"values":[0.008,0.004,0,-0.004,-0.008,-0.012,-0.016,-0.02,-0.024,-0.028,-0.032,-0.036,-0.04,-0.044,-0.048,-0.052,-0.056,-0.06,-0.064,-0.068,-0.072,-0.076,-0.08,-0.084,-0.088,-0.092,-0.096,-0.1,-0.104,-0.108],"tickSize":{"condition":{"test":"abs(datum.value*50-round(datum.value*50))<0.001","value":-8},"value":-4},"labelExpr":"abs(datum.value*50-round(datum.value*50))<0.001 ? datum.value+'' : ''"}}},
   "layer":[
    {"transform":[{"filter":"datum.panel=='B5'"},{"fold":["k00","k01","k02","k03","k04","k05","k06","k07","k08","k09","k10"],"as":["series","v"]},{"filter":"datum.r<=0.5"}],
     "mark":{"type":"line","strokeWidth":1.3,"opacity":0.75},
     "encoding":{"color":{"field":"series","type":"nominal","legend":null,"scale":{"domain":["k00","k01","k02","k03","k04","k05","k06","k07","k08","k09","k10"],"range":["#000000","#ff0000","#00cc00","#0000ff","#ff55ee","#9933ff","#ff0000","#00cc00","#0000ff","#ff00ff","#8800ff"]}},"strokeDash":{"field":"series","type":"nominal","legend":null,"scale":{"domain":["k00","k01","k02","k03","k04","k05","k06","k07","k08","k09","k10"],"range":[[1,0],[10,8],[10,4,2,4],[1.5,2],[14,8],[10,3,2,3,2,3],[1,0],[1,0],[1,0],[1,0],[1,0]]}}}},
    {"transform":[{"filter":"datum.panel=='B5'"},{"fold":["k00","k01","k02","k03","k04","k05","k06","k07","k08","k09","k10"],"as":["series","v"]},{"filter":"datum.r>=0.5"}],
     "mark":{"type":"line","strokeWidth":1.3,"opacity":0.75,"interpolate":"natural"},
     "encoding":{"color":{"field":"series","type":"nominal","legend":null,"scale":{"domain":["k00","k01","k02","k03","k04","k05","k06","k07","k08","k09","k10"],"range":["#000000","#ff0000","#00cc00","#0000ff","#ff55ee","#9933ff","#ff0000","#00cc00","#0000ff","#ff00ff","#8800ff"]}},"strokeDash":{"field":"series","type":"nominal","legend":null,"scale":{"domain":["k00","k01","k02","k03","k04","k05","k06","k07","k08","k09","k10"],"range":[[1,0],[10,8],[10,4,2,4],[1.5,2],[14,8],[10,3,2,3,2,3],[1,0],[1,0],[1,0],[1,0],[1,0]]}}}},
    {"transform":[{"filter":"datum.panel=='B5'"},{"fold":["k00","k01","k02","k03","k04","k05","k06","k07","k08","k09","k10"],"as":["series","v"]},{"filter":"datum.series>='k06'"}],
     "mark":{"type":"point","filled":true,"opacity":1},
     "encoding":{"color":{"field":"series","type":"nominal","legend":null,"scale":{"domain":["k00","k01","k02","k03","k04","k05","k06","k07","k08","k09","k10"],"range":["#000000","#ff0000","#00cc00","#0000ff","#ff55ee","#9933ff","#ff0000","#00cc00","#0000ff","#ff00ff","#8800ff"]}},"shape":{"field":"series","type":"nominal","legend":null,"scale":{"domain":["k06","k07","k08","k09","k10"],"range":["square","triangle-up","diamond","triangle-down","circle"]}},"size":{"field":"series","type":"ordinal","legend":null,"scale":{"domain":["k06","k07","k08","k09","k10"],"range":[36,49,56,49,81]}}}},
    {"data":{"values":[{"label":"STP=0.5R"}]},
     "mark":{"type":"text","align":"left","baseline":"alphabetic","fontSize":30,"fontStyle":"italic","fontWeight":"bold","font":"Liberation Serif","color":"#000000"},
     "encoding":{"x":{"datum":0.208},"y":{"datum":-0.0955},"text":{"field":"label"}}}
   ]},
  {"width":530,"height":148,"data":{"name":"rake"},
   "title":{"text":"(b) Backward type","orient":"bottom","anchor":"middle","dx":115,"offset":7,"fontSize":24,"fontWeight":"normal","fontStyle":"normal","font":"Liberation Serif","color":"#000000"},
   "encoding":{
    "x":{"field":"r","type":"quantitative","title":"r/R","scale":{"domain":[0.18,1.02],"nice":false,"zero":false},"axis":{"values":[0.2,0.22,0.24,0.26,0.28,0.3,0.32,0.34,0.36,0.38,0.4,0.42,0.44,0.46,0.48,0.5,0.52,0.54,0.56,0.58,0.6,0.62,0.64,0.66,0.68,0.7,0.72,0.74,0.76,0.78,0.8,0.82,0.84,0.86,0.88,0.9,0.92,0.94,0.96,0.98,1],"tickSize":{"condition":{"test":"abs(datum.value*10-round(datum.value*10))<0.001","value":-12},"value":-6},"labelExpr":"abs(datum.value*10-round(datum.value*10))<0.001 ? datum.value+'' : ''"}},
    "y":{"field":"v","type":"quantitative","title":"Rake(xG/D)","scale":{"domain":[-0.109,0.0106],"nice":false,"zero":false},"axis":{"values":[0.008,0.004,0,-0.004,-0.008,-0.012,-0.016,-0.02,-0.024,-0.028,-0.032,-0.036,-0.04,-0.044,-0.048,-0.052,-0.056,-0.06,-0.064,-0.068,-0.072,-0.076,-0.08,-0.084,-0.088,-0.092,-0.096,-0.1,-0.104,-0.108],"tickSize":{"condition":{"test":"abs(datum.value*50-round(datum.value*50))<0.001","value":-8},"value":-4},"labelExpr":"abs(datum.value*50-round(datum.value*50))<0.001 ? datum.value+'' : ''"}}},
   "layer":[
    {"transform":[{"filter":"datum.panel=='B6'"},{"fold":["k00","k01","k02","k03","k04","k05","k06","k07","k08","k09","k10"],"as":["series","v"]},{"filter":"datum.r<=0.6"}],
     "mark":{"type":"line","strokeWidth":1.3,"opacity":0.75},
     "encoding":{"color":{"field":"series","type":"nominal","legend":null,"scale":{"domain":["k00","k01","k02","k03","k04","k05","k06","k07","k08","k09","k10"],"range":["#000000","#ff0000","#00cc00","#0000ff","#ff55ee","#9933ff","#ff0000","#00cc00","#0000ff","#ff00ff","#8800ff"]}},"strokeDash":{"field":"series","type":"nominal","legend":null,"scale":{"domain":["k00","k01","k02","k03","k04","k05","k06","k07","k08","k09","k10"],"range":[[1,0],[10,8],[10,4,2,4],[1.5,2],[14,8],[10,3,2,3,2,3],[1,0],[1,0],[1,0],[1,0],[1,0]]}}}},
    {"transform":[{"filter":"datum.panel=='B6'"},{"fold":["k00","k01","k02","k03","k04","k05","k06","k07","k08","k09","k10"],"as":["series","v"]},{"filter":"datum.r>=0.6"}],
     "mark":{"type":"line","strokeWidth":1.3,"opacity":0.75,"interpolate":"natural"},
     "encoding":{"color":{"field":"series","type":"nominal","legend":null,"scale":{"domain":["k00","k01","k02","k03","k04","k05","k06","k07","k08","k09","k10"],"range":["#000000","#ff0000","#00cc00","#0000ff","#ff55ee","#9933ff","#ff0000","#00cc00","#0000ff","#ff00ff","#8800ff"]}},"strokeDash":{"field":"series","type":"nominal","legend":null,"scale":{"domain":["k00","k01","k02","k03","k04","k05","k06","k07","k08","k09","k10"],"range":[[1,0],[10,8],[10,4,2,4],[1.5,2],[14,8],[10,3,2,3,2,3],[1,0],[1,0],[1,0],[1,0],[1,0]]}}}},
    {"transform":[{"filter":"datum.panel=='B6'"},{"fold":["k00","k01","k02","k03","k04","k05","k06","k07","k08","k09","k10"],"as":["series","v"]},{"filter":"datum.series>='k06'"}],
     "mark":{"type":"point","filled":true,"opacity":1},
     "encoding":{"color":{"field":"series","type":"nominal","legend":null,"scale":{"domain":["k00","k01","k02","k03","k04","k05","k06","k07","k08","k09","k10"],"range":["#000000","#ff0000","#00cc00","#0000ff","#ff55ee","#9933ff","#ff0000","#00cc00","#0000ff","#ff00ff","#8800ff"]}},"shape":{"field":"series","type":"nominal","legend":null,"scale":{"domain":["k06","k07","k08","k09","k10"],"range":["square","triangle-up","diamond","triangle-down","circle"]}},"size":{"field":"series","type":"ordinal","legend":null,"scale":{"domain":["k06","k07","k08","k09","k10"],"range":[36,49,56,49,81]}}}},
    {"data":{"values":[{"label":"STP=0.6R"}]},
     "mark":{"type":"text","align":"left","baseline":"alphabetic","fontSize":30,"fontStyle":"italic","fontWeight":"bold","font":"Liberation Serif","color":"#000000"},
     "encoding":{"x":{"datum":0.208},"y":{"datum":-0.0955},"text":{"field":"label"}}}
   ]}
 ],"spacing":8,
 "resolve":{"scale":{"x":"independent","y":"independent","color":"independent","strokeDash":"independent","shape":"independent","size":"independent"}}}
],"spacing":12,
"resolve":{"scale":{"x":"independent","y":"independent","color":"independent","strokeDash":"independent","shape":"independent","size":"independent"}}},
{"vconcat":[
 {"width":10,"height":130,"view":{"stroke":null,"fill":"white"},"data":{"values":[{"t":""}]},"mark":{"type":"text"},"encoding":{"text":{"field":"t"}}},
 {"width":210,"height":278,
  "data":{"name":"legend"},
  "encoding":{"y":{"field":"series","type":"ordinal","scale":{"type":"point","padding":0,"range":[34,256]},"axis":null}},
  "layer":[
   {"mark":{"type":"rule","strokeWidth":2},
    "encoding":{"x":{"datum":0.0857,"type":"quantitative","scale":{"domain":[0,1]},"axis":null},"x2":{"datum":0.481},
     "color":{"field":"series","type":"nominal","legend":null,"scale":{"domain":["k00","k01","k02","k03","k04","k05","k06","k07","k08","k09","k10"],"range":["#000000","#ff0000","#00cc00","#0000ff","#9933ff","#ff00ff","#ff0000","#00cc00","#0000ff","#ff00ff","#8800ff"]}},
     "strokeDash":{"field":"series","type":"nominal","legend":null,"scale":{"domain":["k00","k01","k02","k03","k04","k05","k06","k07","k08","k09","k10"],"range":[[1,0],[12,11.5],[12,4,2,4],[1.5,1.5],[12,11.5],[12,3,2,3,2,3],[1,0],[1,0],[1,0],[1,0],[1,0]]}}}},
   {"transform":[{"filter":"datum.series>='k06'"}],
    "mark":{"type":"point","filled":true,"opacity":1},
    "encoding":{"x":{"datum":0.286,"type":"quantitative"},
     "color":{"field":"series","type":"nominal","legend":null,"scale":{"domain":["k00","k01","k02","k03","k04","k05","k06","k07","k08","k09","k10"],"range":["#000000","#ff0000","#00cc00","#0000ff","#9933ff","#ff00ff","#ff0000","#00cc00","#0000ff","#ff00ff","#8800ff"]}},
     "shape":{"field":"series","type":"nominal","legend":null,"scale":{"domain":["k06","k07","k08","k09","k10"],"range":["square","triangle-up","diamond","triangle-down","circle"]}},
     "size":{"field":"series","type":"ordinal","legend":null,"scale":{"domain":["k06","k07","k08","k09","k10"],"range":[144,169,196,169,256]}}}},
   {"mark":{"type":"text","align":"left","baseline":"middle","fontSize":18.5,"fontStyle":"italic","fontWeight":"bold","font":"Liberation Serif","color":"#000000"},
    "encoding":{"x":{"datum":0.543,"type":"quantitative"},"text":{"field":"label"}}}
  ]},
 {"width":10,"height":343,"view":{"stroke":null,"fill":"white"},"data":{"values":[{"t":""}]},"mark":{"type":"text"},"encoding":{"text":{"field":"t"}}},
 {"width":210,"height":279,
  "data":{"name":"legend"},
  "encoding":{"y":{"field":"series","type":"ordinal","scale":{"type":"point","padding":0,"range":[34,253]},"axis":null}},
  "layer":[
   {"mark":{"type":"rule","strokeWidth":2},
    "encoding":{"x":{"datum":0.0857,"type":"quantitative","scale":{"domain":[0,1]},"axis":null},"x2":{"datum":0.481},
     "color":{"field":"series","type":"nominal","legend":null,"scale":{"domain":["k00","k01","k02","k03","k04","k05","k06","k07","k08","k09","k10"],"range":["#444444","#ff0000","#00cc00","#0000ff","#9933ff","#ff00ff","#ff0000","#00cc00","#0000ff","#ff00ff","#8800ff"]}},
     "strokeDash":{"field":"series","type":"nominal","legend":null,"scale":{"domain":["k00","k01","k02","k03","k04","k05","k06","k07","k08","k09","k10"],"range":[[1,0],[12,11.5],[12,4,2,4],[1.5,1.5],[12,11.5],[12,3,2,3,2,3],[1,0],[1,0],[1,0],[1,0],[1,0]]}}}},
   {"transform":[{"filter":"datum.series>='k06'"}],
    "mark":{"type":"point","filled":true,"opacity":1},
    "encoding":{"x":{"datum":0.286,"type":"quantitative"},
     "color":{"field":"series","type":"nominal","legend":null,"scale":{"domain":["k00","k01","k02","k03","k04","k05","k06","k07","k08","k09","k10"],"range":["#444444","#ff0000","#00cc00","#0000ff","#9933ff","#ff00ff","#ff0000","#00cc00","#0000ff","#ff00ff","#8800ff"]}},
     "shape":{"field":"series","type":"nominal","legend":null,"scale":{"domain":["k06","k07","k08","k09","k10"],"range":["square","triangle-up","diamond","triangle-down","circle"]}},
     "size":{"field":"series","type":"ordinal","legend":null,"scale":{"domain":["k06","k07","k08","k09","k10"],"range":[144,169,196,169,256]}}}},
   {"mark":{"type":"text","align":"left","baseline":"middle","fontSize":18.5,"fontStyle":"italic","fontWeight":"bold","font":"Liberation Serif","color":"#000000"},
    "encoding":{"x":{"datum":0.543,"type":"quantitative"},"text":{"field":"label"}}}
  ]}
],"spacing":0,
"resolve":{"scale":{"x":"independent","y":"independent","color":"independent","strokeDash":"independent","shape":"independent","size":"independent"}}}
],
"config":{
 "view":{"stroke":"#555555","strokeWidth":1.3},
 "axis":{"domain":false,"grid":false,"tickColor":"#333333","tickWidth":1,"labelFont":"Liberation Serif","labelFontStyle":"italic","labelFontWeight":"bold","labelFontSize":9.5,"labelColor":"#000000","titleFont":"Liberation Serif","titleFontStyle":"italic","titleFontWeight":"bold","titleColor":"#000000","labelFlush":false,"labelOverlap":false,"labelBound":false},
 "axisX":{"titleFontSize":19,"labelPadding":17,"titlePadding":-5},
 "axisY":{"titleFontSize":19,"labelPadding":19,"titleX":-43,"titleBaseline":"middle","titleAngle":270},
 "title":{"font":"Liberation Serif"}
}
}
